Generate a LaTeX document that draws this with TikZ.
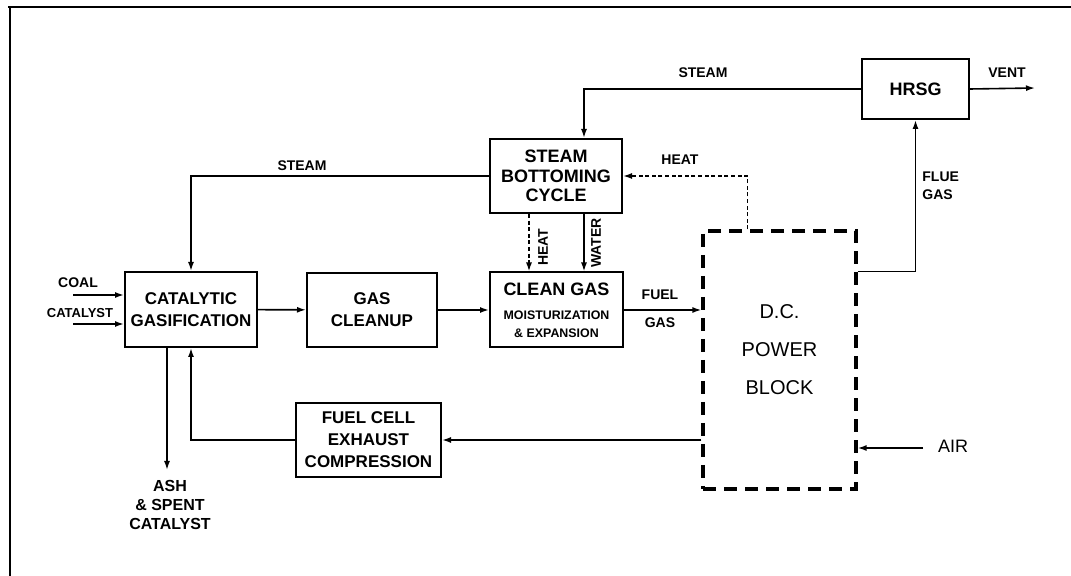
\documentclass[tikz,border=0pt]{standalone}
\usepackage{fontspec}
\setmainfont{Liberation Sans}
\usetikzlibrary{arrows.meta, positioning}

\newcommand{\smalltxt}{\fontsize{6.2}{8.5}\selectfont}

\begin{document}
\begin{tikzpicture}[
    x=0.5pt, y=-0.5pt,
    block/.style={rectangle, draw, line width=1pt, align=center, inner sep=0pt, font=\fontsize{8.5}{11}\selectfont\bfseries},
    dcblock/.style={rectangle, draw, line width=1.6pt, dash pattern=on 6.5pt off 4pt, align=center, inner sep=0pt, font=\fontsize{10}{19}\selectfont},
    lbl/.style={inner sep=0.5pt, align=center, font=\fontsize{7}{9}\selectfont\bfseries},
    arrow/.style={-{Latex[length=4.5pt,width=3pt]}, line width=0.8pt},
    heatarrow/.style={-{Latex[length=4.5pt,width=3pt]}, line width=0.8pt, dash pattern=on 2pt off 1.3pt}
]
    \useasboundingbox (0,0) rectangle (1071,576);
    \draw[line width=1pt] (8,7) -- (1071,7);
    \draw[line width=1.2pt] (10,7) -- (10,576);

    % process blocks
    \node[block, minimum width=66pt, minimum height=37.5pt] (gasif) at (191,309.5) {CATALYTIC\\GASIFICATION};
    \node[block, minimum width=65pt, minimum height=37pt] (cleanup) at (372,310) {GAS\\CLEANUP};
    \node[block, minimum width=66.5pt, minimum height=37.5pt, font=\fontsize{9}{11}\selectfont\bfseries] (cleangas) at (556.5,310)
        {CLEAN GAS\\[1pt]{\smalltxt MOISTURIZATION}\\[-2pt]{\smalltxt\& EXPANSION}};
    \node[block, minimum width=66pt, minimum height=37pt, font=\fontsize{9}{9.8}\selectfont\bfseries] (bottoming) at (556,176) {STEAM\\BOTTOMING\\CYCLE};
    \node[block, minimum width=53.5pt, minimum height=30pt, font=\fontsize{9}{11}\selectfont\bfseries] (hrsg) at (915.5,89) {HRSG};
    \node[block, minimum width=72.5pt, minimum height=37pt] (exhaust) at (368.5,440) {FUEL CELL\\EXHAUST\\COMPRESSION};
    \node[dcblock, minimum width=76.5pt, minimum height=129pt] (power) at (779.5,360) {D.C.\\POWER\\BLOCK\\[-14pt]\strut};

    % free ends
    \coordinate (coalin) at (73,295);
    \coordinate (catin) at (73,324);
    \coordinate (ashout) at (167,470);
    \coordinate (ventout) at (1035,88);
    \coordinate (airin) at (923,448);

    % stream labels
    \node[lbl] (coallbl) at (78,283) {COAL};
    \node[lbl, font=\fontsize{6.5}{8}\selectfont\bfseries] (catlbl) at (80,313) {CATALYST};
    \node[lbl, font=\fontsize{8}{9.3}\selectfont\bfseries] (ashlbl) at (170,505) {ASH\\\& SPENT\\CATALYST};
    \node[lbl] (steamlbl) at (302,166) {STEAM};
    \node[lbl] (steamtoplbl) at (703,73) {STEAM};
    \node[lbl] (heatlbl) at (680,160) {HEAT};
    \node[lbl, rotate=90] (heatvlbl) at (543,247) {HEAT};
    \node[lbl, rotate=90] (waterlbl) at (596,243) {WATER};
    \node[lbl] (fuellbl) at (660,295) {FUEL};
    \node[lbl] (gaslbl) at (660,323) {GAS};
    \node[lbl] (ventlbl) at (1007,73) {VENT};
    \node[lbl, anchor=west, align=left] (fluelbl) at (921,186) {FLUE\\GAS};
    \node[lbl, font=\fontsize{9}{11}\selectfont] (airlbl) at (953,446) {AIR};

    % connectors
    \draw[arrow] (coalin) -- (coalin -| gasif.west);
    \draw[arrow] (catin) -- (catin -| gasif.west);
    \draw[arrow] ([xshift=-12pt]gasif.south) -- (ashout);
    \draw[arrow] (gasif) -- (cleanup);
    \draw[arrow] (cleanup) -- (cleangas);
    \draw[arrow] (cleangas.east) -- (cleangas.east -| power.west);
    \draw[arrow] (bottoming.west) -| (gasif.north);
    \draw[arrow] (hrsg.west) -| ([xshift=14pt]bottoming.north);
    \draw[arrow] (hrsg.east) -- (ventout);
    \draw[heatarrow] ([xshift=-16pt]power.north) |- (bottoming.east);
    \draw[heatarrow] ([xshift=-13.5pt]bottoming.south) -- ([xshift=-13.5pt]bottoming.south |- cleangas.north);
    \draw[arrow] ([xshift=14pt]bottoming.south) -- ([xshift=14pt]bottoming.south |- cleangas.north);
    \draw[arrow] ([yshift=-21pt]power.north east) -| (hrsg.south);
    \draw[arrow] (exhaust.east -| power.west) -- (exhaust.east);
    \draw[arrow] (exhaust.west) -| (gasif.south);
    \draw[arrow] (airin) -- (airin -| power.east);
\end{tikzpicture}
\end{document}
